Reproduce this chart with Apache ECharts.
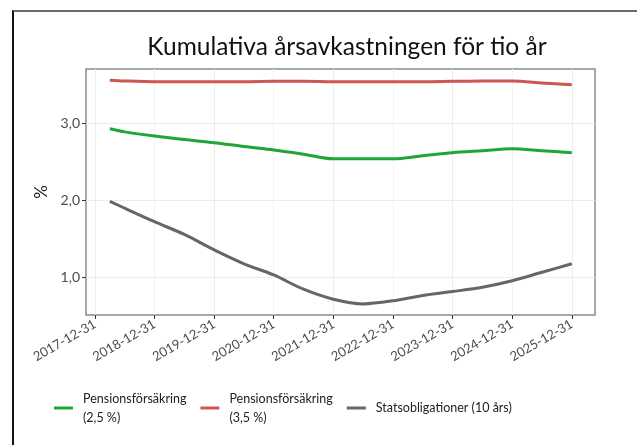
<!DOCTYPE html>
<html>
<head>
<meta charset="utf-8">
<script src="https://cdn.jsdelivr.net/npm/echarts@6/dist/echarts.min.js"></script>
<style>
  html, body { margin: 0; padding: 0; background: #fff; }
  #frame {
    position: absolute; left: 12px; top: 10px; width: 625px; height: 435px;
    border-top: 2px solid #6a6a6a; border-left: 2px solid #111;
  }
  #chart { position: absolute; left: 0; top: 0; width: 637px; height: 445px; }
</style>
</head>
<body>
<div id="frame"></div>
<div id="chart"></div>
<script>
// datum (halvår) och värden
const dates = [
  "2018-03-31", "2018-06-30", "2018-12-31", "2019-06-30", "2019-12-31",
  "2020-06-30", "2020-12-31", "2021-06-30", "2021-12-31", "2022-06-30",
  "2022-12-31", "2023-06-30", "2023-12-31", "2024-06-30", "2024-12-31",
  "2025-06-30", "2025-12-31"
];
const pension25 = [2.93, 2.89, 2.835, 2.79, 2.75, 2.70, 2.655, 2.60, 2.54, 2.54, 2.54, 2.58, 2.62, 2.645, 2.67, 2.645, 2.62];
const pension35 = [3.56, 3.55, 3.54, 3.54, 3.54, 3.54, 3.545, 3.545, 3.54, 3.54, 3.54, 3.54, 3.545, 3.55, 3.55, 3.525, 3.50];
const statsobl = [1.99, 1.90, 1.725, 1.56, 1.36, 1.18, 1.035, 0.85, 0.72, 0.66, 0.70, 0.77, 0.82, 0.875, 0.96, 1.07, 1.18];

const xTicks = [
  "2017-12-31", "2018-12-31", "2019-12-31", "2020-12-31", "2021-12-31",
  "2022-12-31", "2023-12-31", "2024-12-31", "2025-12-31"
];
const yTicks = [1, 2, 3];

const seriesNames = ["Pensionsförsäkring\n(2,5 %)", "Pensionsförsäkring\n(3,5 %)", "Statsobligationer (10 års)"];
const colors = ["#1ea636", "#cd5750", "#666666"];

// månadsslut -> decimalår (2017-12-31 -> 2018.0)
const toYear = (s) => {
  const [y, m] = s.split("-").map(Number);
  return y + m / 12;
};
const xTickVals = xTicks.map(toYear);
const pairs = (vals) => dates.map((d, i) => [toYear(d), vals[i]]);

const chart = echarts.init(document.getElementById("chart"));
chart.setOption({
  backgroundColor: "transparent",
  textStyle: { fontFamily: "Lato" },
  title: {
    text: "Kumulativa årsavkastningen för tio år",
    left: 342, top: 30, textAlign: "center",
    textStyle: { fontFamily: "Lato", fontSize: 24.5, fontWeight: "normal", color: "#111" }
  },
  grid: {
    left: 86, right: 42, top: 69, bottom: 130,
    show: true, borderColor: "#8c8c8c", borderWidth: 1.5
  },
  legend: {
    bottom: 13, left: 49,
    icon: "rect", itemWidth: 19, itemHeight: 3, itemGap: 14,
    textStyle: { fontFamily: "Lato", fontSize: 12.5, color: "#222", lineHeight: 19, padding: [0, 0, 0, 5] },
    data: seriesNames
  },
  xAxis: {
    type: "value",
    min: 2017.85, max: 2026.39,
    axisLine: { show: false },
    axisTick: { show: true, customValues: xTickVals, length: 4, lineStyle: { color: "#333" } },
    axisLabel: {
      customValues: xTickVals,
      rotate: 30, margin: 8, fontSize: 13, color: "#4d4d4d",
      formatter: (v) => xTicks[xTickVals.findIndex((t) => Math.abs(t - v) < 1e-6)]
    },
    splitLine: { show: true, lineStyle: { color: "#ececec", width: 1 } },
    minorSplitLine: { show: true, lineStyle: { color: "#f3f3f3", width: 1 } },
    minorTick: { show: false, splitNumber: 2 }
  },
  yAxis: {
    type: "value",
    min: 0.516, max: 3.705,
    name: "%", nameLocation: "middle", nameGap: 34, nameRotate: 90,
    nameTextStyle: { fontFamily: "Lato", fontSize: 17, color: "#222" },
    axisLine: { show: false },
    axisTick: { show: true, customValues: yTicks, length: 4, lineStyle: { color: "#333" } },
    axisLabel: {
      customValues: yTicks, fontSize: 14, color: "#4d4d4d", margin: 6,
      formatter: (v) => v.toFixed(1).replace(".", ",")
    },
    splitLine: { show: true, lineStyle: { color: "#ececec", width: 1 } }
  },
  series: [pension25, pension35, statsobl].map((vals, i) => ({
    name: seriesNames[i],
    type: "line",
    data: pairs(vals),
    showSymbol: false,
    smooth: 0.3,
    itemStyle: { color: colors[i] },
    lineStyle: { color: colors[i], width: 3 }
  }))
});
</script>
</body>
</html>
